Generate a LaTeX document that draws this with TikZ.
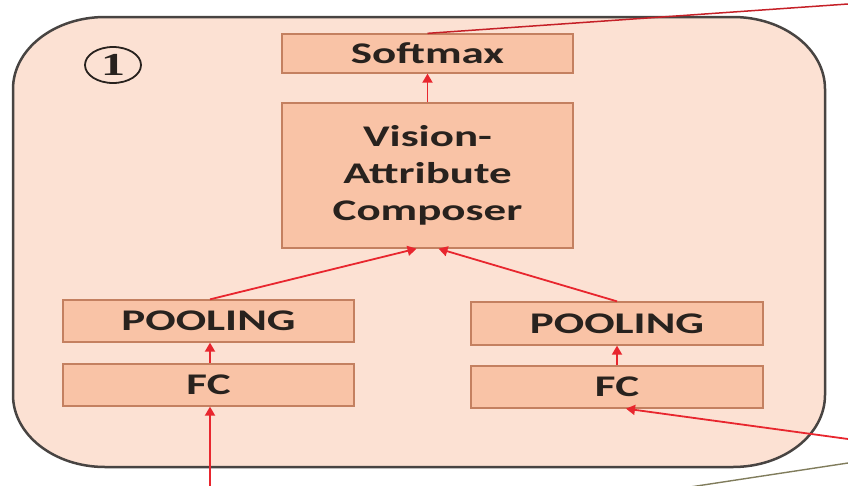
\documentclass[tikz,border=0pt]{standalone}
\usepackage{fontspec}
\setmainfont{Carlito}[FakeStretch=1.5]
\newfontfamily\numfont{Liberation Serif}[FakeStretch=1.5]
\usetikzlibrary{arrows.meta,shapes.geometric}
\definecolor{panel}{RGB}{252,225,211}
\definecolor{panelline}{RGB}{72,68,66}
\definecolor{boxfill}{RGB}{249,195,166}
\definecolor{boxline}{RGB}{196,128,96}
\definecolor{flow}{RGB}{232,38,46}
\definecolor{olive}{RGB}{128,124,92}
\definecolor{ink}{RGB}{40,34,30}
\tikzset{
  layer/.style={draw=boxline, line width=1.3pt, fill=boxfill, inner sep=0pt,
    text=ink, align=center, font=\bfseries\fontsize{30}{37}\selectfont},
  flowarrow/.style={draw=flow, line width=1.8pt,
    -{Triangle[length=9pt,width=10pt]}},
}
\begin{document}
\begin{tikzpicture}[x=1pt,y=-1pt]
  \useasboundingbox (0,0) rectangle (848,485);
  \clip (0,0) rectangle (848,485);

  % rounded panel
  \draw[panelline, line width=2.5pt, fill=panel]
    (105,17) -- (733,17)
    arc[start angle=270, end angle=360, x radius=92, y radius=72]
    -- (825,395)
    arc[start angle=0, end angle=90, x radius=92, y radius=72]
    -- (105,467)
    arc[start angle=90, end angle=180, x radius=92, y radius=72]
    -- (13,89)
    arc[start angle=180, end angle=270, x radius=92, y radius=72]
    -- cycle;

  % circled number
  \node[draw=ink, line width=1.8pt, ellipse, inner sep=0pt,
        minimum width=56, minimum height=36, text=ink,
        font=\numfont\bfseries\fontsize{32}{32}\selectfont] (num) at (113,65) {1};

  % layers
  \node[layer, minimum width=291, minimum height=39]  (soft)  at (427.5,53.5) {Softmax};
  \node[layer, minimum width=291, minimum height=145] (comp)  at (427.5,175.5) {\raisebox{-3pt}{\parbox{280pt}{\centering Vision-\\Attribute\\Composer}}};
  \node[layer, minimum width=291, minimum height=42]  (lpool) at (208.5,321) {POOLING};
  \node[layer, minimum width=291, minimum height=42]  (lfc)   at (208.5,385) {FC};
  \node[layer, minimum width=292, minimum height=43]  (rpool) at (617,323.5) {POOLING};
  \node[layer, minimum width=292, minimum height=42]  (rfc)   at (617,387) {FC};

  % free ends of the outer connectors
  \coordinate (inL)  at (210,486);
  \coordinate (inR)  at (848,439);
  \coordinate (outT) at (848,4);
  \coordinate (olA)  at (690,487);
  \coordinate (olB)  at (848,463);

  % connectors
  \draw[flowarrow] (comp.north) -- (soft.south);
  \draw[flowarrow] ([xshift=1.5pt]lpool.north) -- ([xshift=-11pt]comp.south);
  \draw[flowarrow] (rpool.north) -- ([xshift=11pt]comp.south);
  \draw[flowarrow] ([xshift=1.5pt]lfc.north) -- ([xshift=1.5pt]lpool.south);
  \draw[flowarrow] (rfc.north) -- (rpool.south);
  \draw[flowarrow] (inL) -- ([xshift=1.5pt]lfc.south);
  \draw[flowarrow] (inR) -- ([xshift=9pt]rfc.south);
  \draw[flow!85!black, line width=1.5pt] (soft.north) -- (outT);
  \draw[olive, line width=1.4pt] (olA) -- (olB);
\end{tikzpicture}
\end{document}
